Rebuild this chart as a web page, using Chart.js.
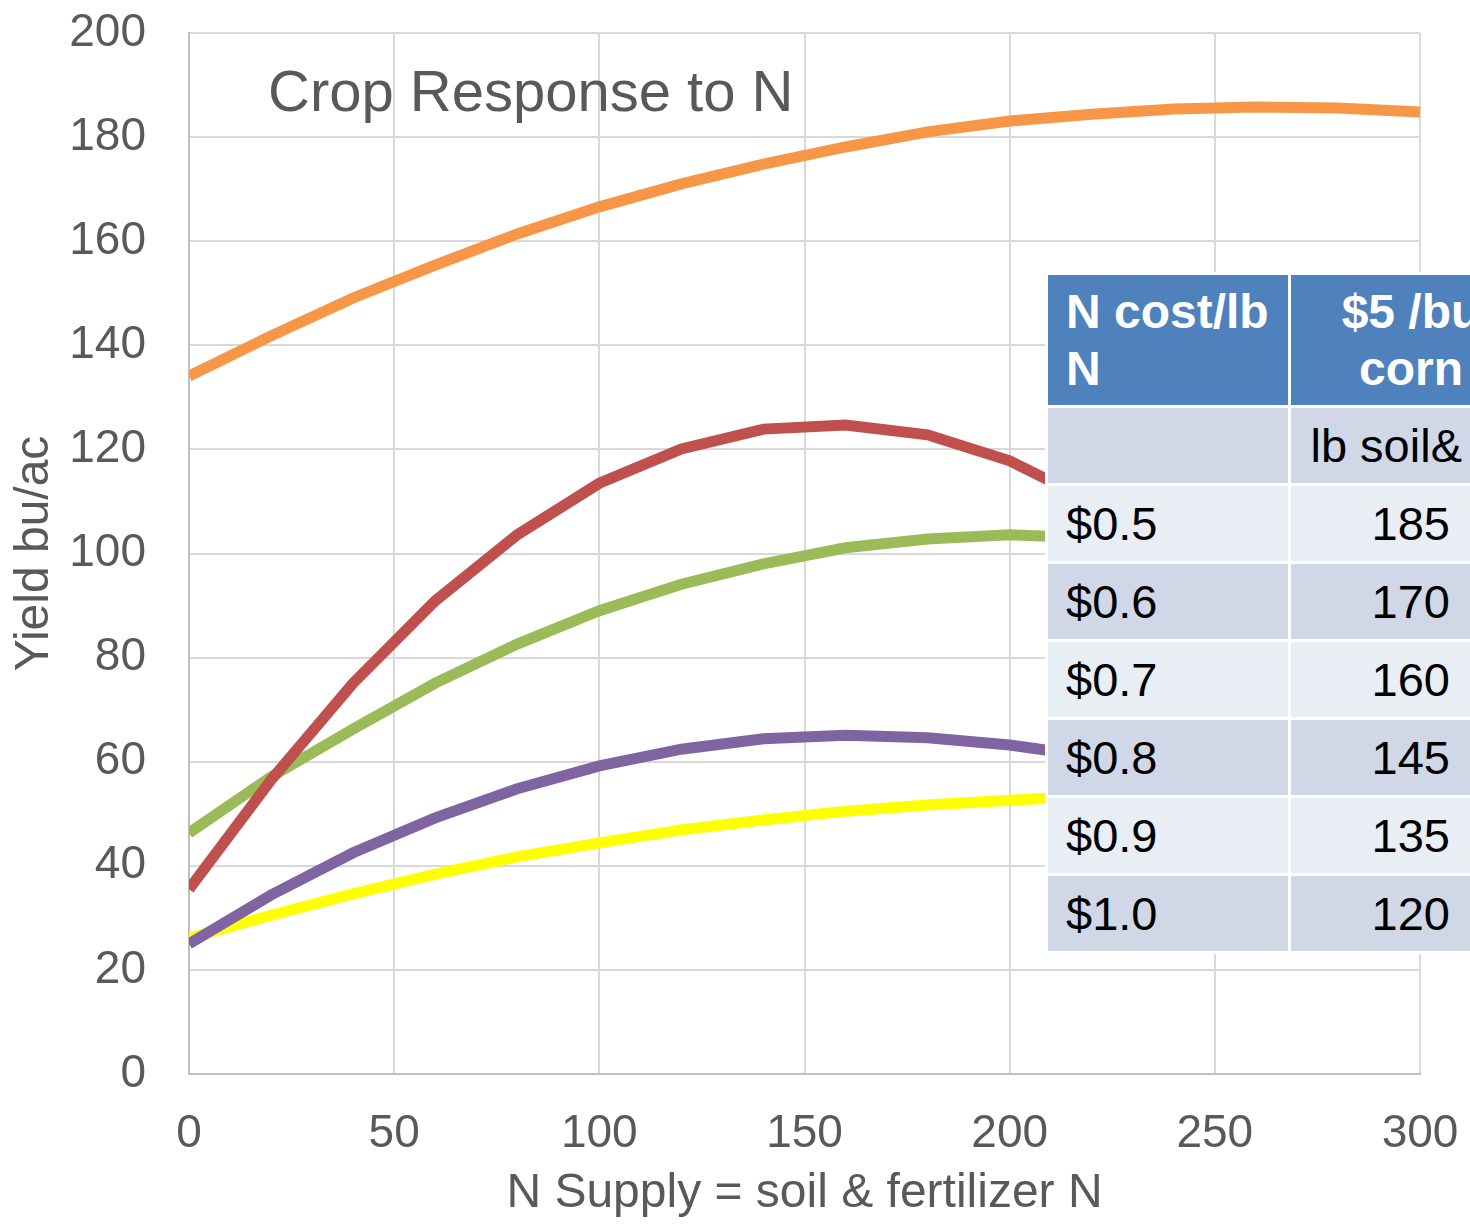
<!DOCTYPE html>
<html>
<head>
<meta charset="utf-8">
<script src="https://cdn.jsdelivr.net/npm/chart.js@4.4.0/dist/chart.umd.min.js"></script>
<style>
  html, body { margin: 0; padding: 0; background: #fff; overflow: hidden; }
  body { width: 1470px; height: 1225px; position: relative; font-family: "Liberation Sans", Arial, sans-serif; }
  #wrap { position: absolute; left: 0; top: 0; width: 1470px; height: 1225px; }
  #title { position: absolute; left: 268px; top: 62px; font-size: 58px; line-height: 57px; color: #595959; white-space: nowrap; }
  #costTable { position: absolute; left: 1045px; top: 272px; width: 489px; table-layout: fixed; border-collapse: separate; border-spacing: 3px; background: #fff; font-size: 47px; }
  #costTable td { box-sizing: border-box; padding: 0; white-space: nowrap; overflow: hidden; }
  #costTable td.c1 { padding-left: 18px; }
  #costTable tr.head td { background: #4F81BD; color: #fff; font-weight: bold; font-size: 48px; height: 130px; line-height: 57px; }
  #costTable tr.head td.c2 { text-align: center; }
  #costTable tr.sub td { background: #D0D8E8; height: 75px; }
  #costTable tr.sub td.c2 { text-align: right; padding-right: 69px; }
  #costTable tr.row td { height: 75px; }
  #costTable tr.row td.c2 { text-align: right; padding-right: 81px; }
  #costTable tr.odd td { background: #E9EDF4; }
  #costTable tr.even td { background: #D0D8E8; }
</style>
</head>
<body>
<div id="wrap"><canvas id="yieldChart"></canvas></div>
<div id="title">Crop Response to N</div>
<table id="costTable"></table>
<script>
// N supply (lb/ac) and yield (bu/ac) for each response curve
const nSupply = [0, 20, 40, 60, 80, 100, 120, 140, 160, 180, 200, 220, 240, 260, 280, 300];
const orangeYield = [134.1, 141.8, 149.1, 155.4, 161.4, 166.6, 171.0, 174.8, 178.1, 181.0, 183.1, 184.4, 185.4, 185.8, 185.6, 184.8];
const redYield = [35.5, 56.5, 75.1, 90.9, 103.6, 113.5, 120.1, 123.9, 124.7, 122.8, 117.8, 110.0, 100.0, 89.0, 76.0, 62.0];
const greenYield = [46.3, 57.1, 66.3, 75.1, 82.6, 89.0, 94.1, 98.0, 101.1, 102.8, 103.6, 103.0, 101.0, 98.0, 95.0, 91.0];
const purpleYield = [25.0, 34.4, 42.5, 49.2, 54.8, 59.2, 62.4, 64.4, 65.1, 64.6, 63.2, 61.0, 58.0, 55.0, 51.0, 47.0];
const yellowYield = [26.1, 30.5, 34.6, 38.4, 41.7, 44.4, 46.9, 48.8, 50.5, 51.7, 52.6, 53.4, 53.8, 54.0, 54.0, 53.8];

// N price table
const nCosts = ['$0.5', '$0.6', '$0.7', '$0.8', '$0.9', '$1.0'];
const nSupplyAtCost = [185, 170, 160, 145, 135, 120];

const grey = '#595959';
const family = '"Liberation Sans", Arial, sans-serif';
const tickFont = { family: family, size: 46 };
const titleFont = { family: family, size: 48 };

function series(values, color) {
  return {
    data: values.map((v, i) => ({ x: nSupply[i], y: v })),
    borderColor: color,
    backgroundColor: color,
    borderWidth: 11,
    pointRadius: 0,
    tension: 0,
    fill: false,
    clip: { left: 0, right: 2, top: 20, bottom: 20 }
  };
}

new Chart(document.getElementById('yieldChart'), {
  type: 'line',
  data: {
    datasets: [
      series(orangeYield, '#F79646'),
      series(redYield, '#C0504D'),
      series(greenYield, '#9BBB59'),
      series(purpleYield, '#8064A2'),
      series(yellowYield, '#FFFF00')
    ]
  },
  options: {
    responsive: true,
    maintainAspectRatio: false,
    animation: false,
    layout: { padding: { top: 33, right: 50, left: 0, bottom: 0 } },
    plugins: { legend: { display: false }, tooltip: { enabled: false } },
    scales: {
      x: {
        type: 'linear',
        min: 0,
        max: 300,
        // tick padding feeds the edge padding, so the gap comes from an invisible tick mark
        ticks: { stepSize: 50, color: grey, font: tickFont, padding: 0, maxRotation: 0 },
        grid: { color: '#D9D9D9', lineWidth: 2, tickLength: 33, tickColor: 'rgba(0,0,0,0)' },
        border: { color: '#BFBFBF', width: 2 },
        title: { display: true, text: 'N Supply = soil & fertilizer N', color: grey, font: titleFont, padding: { top: 0, bottom: 2 } },
        afterFit: s => { s.height = 151; }
      },
      y: {
        min: 0,
        max: 200,
        ticks: { stepSize: 20, color: grey, font: tickFont, padding: 3 },
        grid: { color: '#D9D9D9', lineWidth: 2, tickLength: 40, tickColor: 'rgba(0,0,0,0)' },
        border: { color: '#BFBFBF', width: 2 },
        title: { display: true, text: 'Yield bu/ac', color: grey, font: titleFont, padding: { top: 6, bottom: 0 } },
        afterFit: s => { s.width = 189; }
      }
    }
  }
});

// build the price table
const table = document.getElementById('costTable');
let html = '<colgroup><col style="width:240px"><col style="width:240px"></colgroup>';
html += '<tr class="head"><td class="c1">N cost/lb<br>N</td><td class="c2">$5 /bu<br>corn</td></tr>';
html += '<tr class="sub"><td class="c1"></td><td class="c2">lb soil&amp;</td></tr>';
nCosts.forEach((c, i) => {
  html += '<tr class="row ' + (i % 2 === 0 ? 'odd' : 'even') + '"><td class="c1">' + c + '</td><td class="c2">' + nSupplyAtCost[i] + '</td></tr>';
});
table.innerHTML = html;
</script>
</body>
</html>
